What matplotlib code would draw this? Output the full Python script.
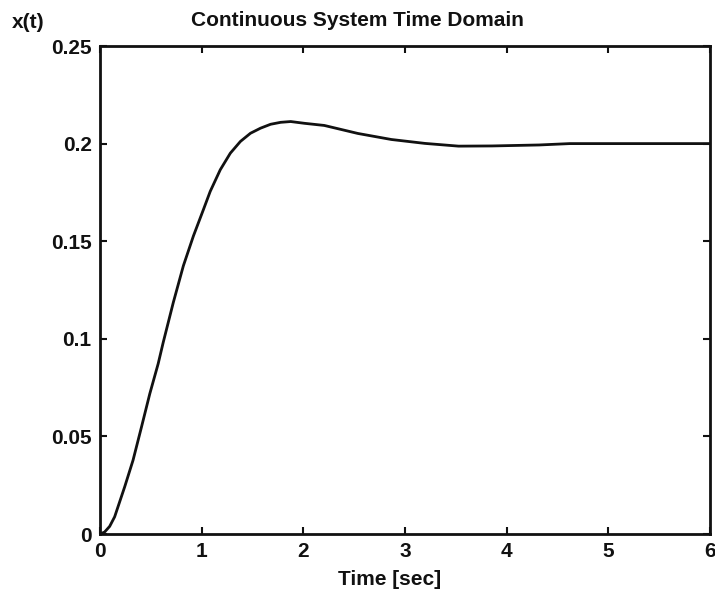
import matplotlib
matplotlib.use("Agg")
import matplotlib.pyplot as plt

# values
time_sec = [0, 0.045, 0.095, 0.144, 0.243, 0.325, 0.408, 0.49, 0.572, 0.622,
            0.721, 0.82, 0.919, 1.018, 1.084, 1.183, 1.282, 1.381, 1.48, 1.579,
            1.678, 1.777, 1.876, 2.01, 2.206, 2.536, 2.866, 3.196, 3.527, 3.856,
            4.32, 4.62, 5.0, 5.5, 6.0]
x_t = [0, 0.001, 0.0039, 0.0088, 0.0242, 0.0378, 0.0548, 0.0719, 0.0872, 0.0982,
       0.1186, 0.1374, 0.1527, 0.1663, 0.1755, 0.1866, 0.1951, 0.2011, 0.2053, 0.2079,
       0.2099, 0.2109, 0.2113, 0.2104, 0.2093, 0.2052, 0.2021, 0.2001, 0.1987, 0.1988,
       0.1993, 0.2000, 0.2000, 0.2000, 0.2000]

x_ticks = [0, 1, 2, 3, 4, 5, 6]
y_ticks = [0, 0.05, 0.1, 0.15, 0.2, 0.25]
y_ticklabels = ["0", "0.05", "0.1", "0.15", "0.2", "0.25"]

plt.rcParams['font.family'] = ['Liberation Sans', 'DejaVu Sans']

fig = plt.figure(figsize=(7.15, 5.95), dpi=100)
ax = fig.add_axes([100/715, 1 - 534/595, 610/715, 488/595])

ax.plot(time_sec, x_t, color='#111111', linewidth=2.0)

ax.set_xlim(0, 6)
ax.set_ylim(0, 0.25)
ax.set_xticks(x_ticks)
ax.set_xticklabels([str(v) for v in x_ticks])
ax.set_yticks(y_ticks)
ax.set_yticklabels(y_ticklabels)
ax.tick_params(direction='in', length=5, width=1.5, top=True, right=True,
               labelsize=15, pad=6, colors='#111111')
for lab in ax.get_xticklabels() + ax.get_yticklabels():
    lab.set_fontweight('bold')
for sp in ax.spines.values():
    sp.set_linewidth(2.0)
    sp.set_color('#111111')

ax.set_xlabel('Time [sec]', fontsize=15, fontweight='bold', color='#111111')
ax.xaxis.set_label_coords((390 - 100) / 610, -(570 - 534) / 488)
fig.text(357/715, 1 - 21/595, 'Continuous System Time Domain', ha='center', va='center',
         fontsize=15, fontweight='bold', color='#111111')
fig.text(12/715, 1 - 23/595, 'x(t)', ha='left', va='center',
         fontsize=15, fontweight='bold', color='#111111')

fig.savefig('out.png', dpi=100)
